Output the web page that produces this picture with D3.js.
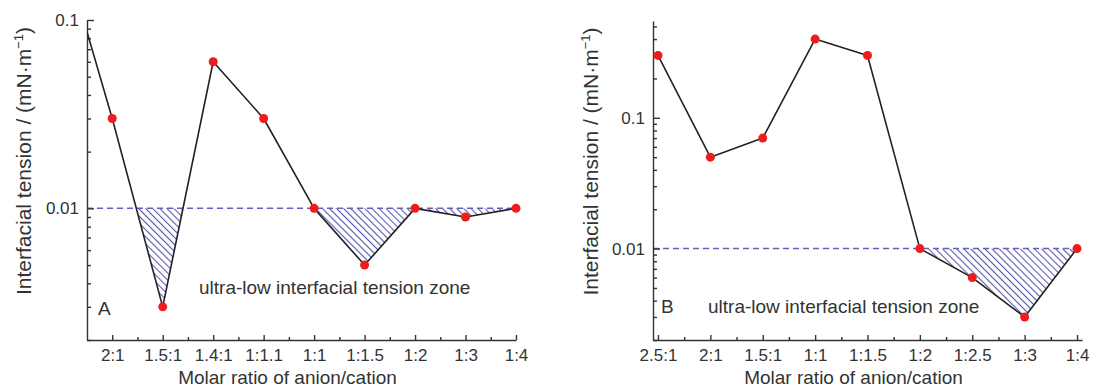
<!DOCTYPE html>
<html>
<head>
<meta charset="UTF-8">
<title>Interfacial tension</title>
<style>
  body { margin: 0; background: #fff; }
  svg { font-family: "Liberation Sans", Arial, sans-serif; }
  .axis path, .axis line { stroke: #333; stroke-width: 1.4; }
  .axis text { fill: #333; font-size: 17px; }
  .lbl { fill: #333; font-size: 19px; }
</style>
</head>
<body>
<svg id="chart" width="1094" height="389"></svg>
<script src="https://cdn.jsdelivr.net/npm/d3@7"></script>
<script>
// panel A (first category sits just outside the axis and gets clipped)
let catsA = ["2.5:1", "2:1", "1.5:1", "1.4:1", "1:1.1", "1:1", "1:1.5", "1:2", "1:3", "1:4"];
let valsA = [0.25, 0.03, 0.003, 0.06, 0.03, 0.01, 0.005, 0.01, 0.009, 0.01];

// panel B
let catsB = ["2.5:1", "2:1", "1.5:1", "1:1", "1:1.5", "1:2", "1:2.5", "1:3", "1:4"];
let valsB = [0.3, 0.05, 0.07, 0.4, 0.3, 0.01, 0.006, 0.003, 0.01];

let threshold = 0.01;
let yLabels = [0.01, 0.1];

let svg = d3.select("#chart");

let defs = svg.append("defs");
defs.append("pattern")
  .attr("id", "hatch")
  .attr("patternUnits", "userSpaceOnUse")
  .attr("width", 5)
  .attr("height", 5)
  .attr("patternTransform", "rotate(-45)")
  .append("line")
  .attr("x1", 0).attr("y1", 0).attr("x2", 0).attr("y2", 5)
  .attr("stroke", "#5a5aae")
  .attr("stroke-width", 2.2);

function panel(id, cats, vals, xDom, xRange, yDom, yRange, tag, tagX, zoneX, textY, yLabX) {
  let x = d3.scaleLinear().domain(xDom).range(xRange);
  let y = d3.scaleLog().domain(yDom).range(yRange);
  let [left, right] = xRange;
  let [bottom, top] = yRange;

  let g = svg.append("g");

  defs.append("clipPath").attr("id", "clip" + id)
    .append("rect")
    .attr("x", left).attr("y", top)
    .attr("width", right - left).attr("height", bottom - top);
  defs.append("clipPath").attr("id", "below" + id)
    .append("rect")
    .attr("x", left).attr("y", y(threshold))
    .attr("width", right - left).attr("height", bottom - y(threshold));

  let data = vals.map((v, i) => ({ i: i, v: v }));

  // hatched area under the threshold
  let area = d3.area()
    .x(d => x(d.i))
    .y0(y(threshold))
    .y1(d => y(d.v));
  g.append("g").attr("clip-path", "url(#clip" + id + ")")
    .append("path")
    .datum(data)
    .attr("clip-path", "url(#below" + id + ")")
    .attr("fill", "url(#hatch)")
    .attr("d", area);

  // dashed threshold line
  g.append("line")
    .attr("x1", left).attr("x2", right)
    .attr("y1", y(threshold)).attr("y2", y(threshold))
    .attr("stroke", "#6262bd")
    .attr("stroke-width", 1.5)
    .attr("stroke-dasharray", "6,4");

  // axes
  let majorX = d3.range(Math.ceil(xDom[0]), Math.floor(xDom[1]) + 1);
  let minorX = d3.range(Math.ceil(xDom[0]) + 0.5, xDom[1], 1);
  g.append("g").attr("class", "axis")
    .attr("transform", "translate(0," + bottom + ")")
    .call(d3.axisBottom(x).tickValues(minorX).tickSize(-3).tickFormat(""))
    .select(".domain").remove();
  g.append("g").attr("class", "axis")
    .attr("transform", "translate(0," + bottom + ")")
    .call(d3.axisBottom(x).tickValues(majorX).tickSizeInner(-5).tickSizeOuter(0).tickPadding(9)
      .tickFormat(i => cats[i]));

  let allY = y.ticks();
  let minorY = allY.filter(t => !yLabels.some(m => Math.abs(m - t) < 1e-9));
  g.append("g").attr("class", "axis")
    .attr("transform", "translate(" + left + ",0)")
    .call(d3.axisLeft(y).tickValues(minorY).tickSize(-4).tickFormat(""))
    .select(".domain").remove();
  g.append("g").attr("class", "axis")
    .attr("transform", "translate(" + left + ",0)")
    .call(d3.axisLeft(y).tickValues(yLabels).tickSizeInner(-7).tickSizeOuter(0).tickPadding(8)
      .tickFormat(d3.format("")));

  // data line and markers
  let line = d3.line().x(d => x(d.i)).y(d => y(d.v));
  let plot = g.append("g").attr("clip-path", "url(#clip" + id + ")");
  plot.append("path")
    .datum(data)
    .attr("fill", "none")
    .attr("stroke", "#222")
    .attr("stroke-width", 1.6)
    .attr("stroke-linejoin", "round")
    .attr("d", line);
  g.selectAll(".dot" + id)
    .data(data.filter(d => d.i >= xDom[0]))
    .enter().append("circle")
    .attr("cx", d => x(d.i))
    .attr("cy", d => y(d.v))
    .attr("r", 4.5)
    .attr("fill", "#ee1c1c");

  // labels
  g.append("text").attr("class", "lbl")
    .attr("x", tagX).attr("y", textY)
    .attr("dy", "0.35em")
    .text(tag);
  g.append("text").attr("class", "lbl")
    .attr("x", zoneX).attr("y", textY - (id === "A" ? 21 : 0))
    .attr("dy", "0.35em")
    .text("ultra-low interfacial tension zone");
  g.append("text").attr("class", "lbl")
    .attr("x", (left + right) / 2 - 14).attr("y", 384)
    .attr("text-anchor", "middle")
    .text("Molar ratio of anion/cation");
  let yl = g.append("text").attr("class", "lbl")
    .style("font-size", "21px")
    .attr("transform", "translate(" + yLabX + "," + ((top + bottom) / 2 - 19) + ") rotate(-90)")
    .attr("text-anchor", "middle");
  yl.append("tspan").text("Interfacial tension / (mN\u00b7m");
  yl.append("tspan").attr("dy", -8).style("font-size", "13px").text("\u22121");
  yl.append("tspan").attr("dy", 8).text(")");
}

panel("A", catsA, valsA, [0.5, 9], [87, 516], [0.002, 0.1], [340, 20], "A", 98, 199, 308, 31);
panel("B", catsB, valsB, [-0.095, 8.095], [653, 1082], [0.002, 0.55], [340, 21], "B", 661, 708, 306, 598);
</script>
</body>
</html>
